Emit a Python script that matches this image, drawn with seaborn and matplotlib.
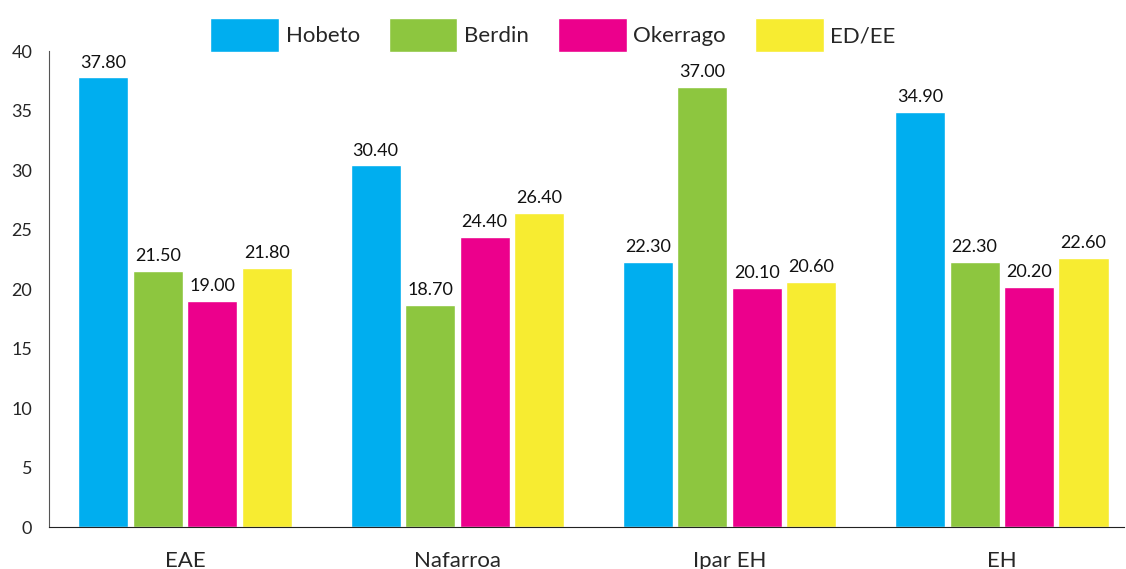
import pandas as pd
import numpy as np
import matplotlib
matplotlib.use("Agg")
import matplotlib.pyplot as plt
import seaborn as sns

regions = ['EAE', 'Nafarroa', 'Ipar EH', 'EH']
series = ['Hobeto', 'Berdin', 'Okerrago', 'ED/EE']
hobeto = [37.80, 30.40, 22.30, 34.90]
berdin = [21.50, 18.70, 37.00, 22.30]
okerrago = [19.00, 24.40, 20.10, 20.20]
ed_ee = [21.80, 26.40, 20.60, 22.60]
colors = ['#00AEEF', '#8DC63F', '#EC008C', '#F7EC31']

df = pd.DataFrame({
    'Eskualdea': np.repeat(regions, len(series)),
    'Balorazioa': series * len(regions),
    'Ehunekoa': [v for grp in zip(hobeto, berdin, okerrago, ed_ee) for v in grp],
})

sns.set_style("white")
plt.rcParams['font.family'] = ['Lato', 'DejaVu Sans']

fig = plt.figure(figsize=(11.26, 5.69), dpi=100)
ax = fig.add_axes([0.0435, 0.0738, 0.955, 0.836])

sns.barplot(data=df, x='Eskualdea', y='Ehunekoa', hue='Balorazioa',
            hue_order=series, palette=colors, width=0.8, gap=0.08,
            saturation=1, ax=ax, legend=True)

for cont in ax.containers:
    ax.bar_label(cont, fmt='%.2f', padding=5, fontsize=13, color='#111111')

ax.set_ylim(0, 40)
ax.set_xlim(-0.5, 3.45)
ax.set_yticks(range(0, 41, 5))
ax.set_xlabel('')
ax.set_ylabel('')

ax.set_xticks([0.5, 1.5, 2.5], minor=True)
ax.tick_params(axis='x', which='major', length=0, pad=17, labelsize=16)
ax.tick_params(axis='x', which='minor', direction='in', length=12, width=1, color='#222222')
ax.tick_params(axis='y', direction='in', length=10, width=1, pad=12, labelsize=13, color='#555555')

for s in ['top', 'right']:
    ax.spines[s].set_visible(False)
ax.spines['left'].set_color('#555555')
ax.spines['bottom'].set_color('#222222')

handles, labels = ax.get_legend_handles_labels()
ax.get_legend().remove()
fig.legend(handles, labels, loc='center', bbox_to_anchor=(0.491, 0.938), ncol=4,
           frameon=False, fontsize=16, handlelength=3.1, handleheight=2.0,
           handletextpad=0.3, columnspacing=1.3)

fig.savefig('out.png', dpi=100)
